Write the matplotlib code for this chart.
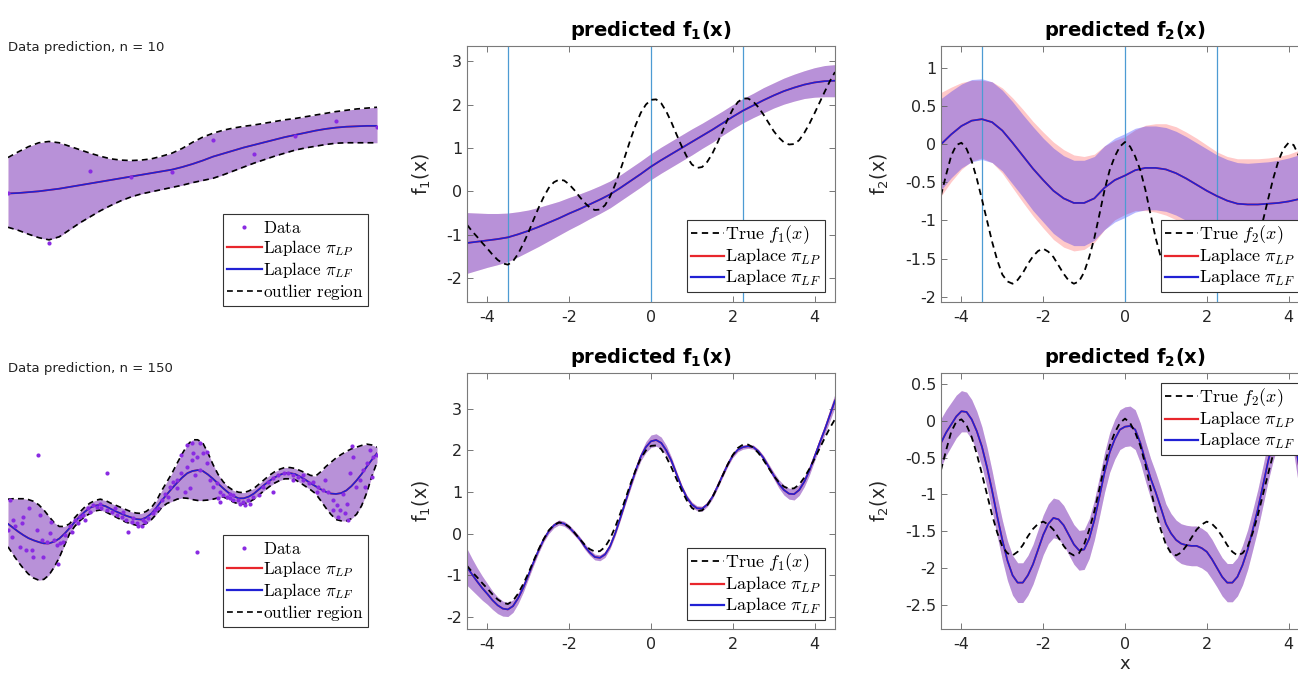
import matplotlib
matplotlib.use('Agg')
import matplotlib.pyplot as plt
import numpy as np
from matplotlib.lines import Line2D
from matplotlib.ticker import FuncFormatter, MultipleLocator

plt.rcParams['axes.unicode_minus'] = False
plt.rcParams['mathtext.fontset'] = 'cm'
plt.rcParams['font.family'] = 'DejaVu Sans'

# ---- data ----
# coarse grid for the smooth n = 10 predictions
x_grid = [-4.5, -4.25, -4.0, -3.75, -3.5, -3.25, -3.0, -2.75, -2.5, -2.25,
          -2.0, -1.75, -1.5, -1.25, -1.0, -0.75, -0.5, -0.25, 0.0, 0.25,
          0.5, 0.75, 1.0, 1.25, 1.5, 1.75, 2.0, 2.25, 2.5, 2.75,
          3.0, 3.25, 3.5, 3.75, 4.0, 4.25, 4.5]
# fine grid for the wiggly curves
x_fine = [-4.5, -4.375, -4.25, -4.125, -4.0, -3.875, -3.75, -3.625, -3.5, -3.375,
          -3.25, -3.125, -3.0, -2.875, -2.75, -2.625, -2.5, -2.375, -2.25, -2.125,
          -2.0, -1.875, -1.75, -1.625, -1.5, -1.375, -1.25, -1.125, -1.0, -0.875,
          -0.75, -0.625, -0.5, -0.375, -0.25, -0.125, 0.0, 0.125, 0.25, 0.375,
          0.5, 0.625, 0.75, 0.875, 1.0, 1.125, 1.25, 1.375, 1.5, 1.625,
          1.75, 1.875, 2.0, 2.125, 2.25, 2.375, 2.5, 2.625, 2.75, 2.875,
          3.0, 3.125, 3.25, 3.375, 3.5, 3.625, 3.75, 3.875, 4.0, 4.125,
          4.25, 4.375, 4.5]

# true latent functions (fine grid)
true_f1 = [-0.77, -0.92, -1.05, -1.19, -1.32, -1.46, -1.58, -1.66, -1.69, -1.61,
           -1.44, -1.21, -0.95, -0.66, -0.38, -0.13, 0.08, 0.21, 0.27, 0.25,
           0.16, 0.03, -0.12, -0.26, -0.37, -0.43, -0.42, -0.32, -0.12, 0.16,
           0.49, 0.84, 1.20, 1.53, 1.81, 2.00, 2.11, 2.12, 2.03, 1.84,
           1.59, 1.31, 1.04, 0.80, 0.62, 0.54, 0.56, 0.68, 0.87, 1.12,
           1.39, 1.66, 1.89, 2.06, 2.14, 2.14, 2.07, 1.94, 1.77, 1.58,
           1.39, 1.24, 1.13, 1.08, 1.09, 1.18, 1.35, 1.56, 1.80, 2.05,
           2.30, 2.54, 2.75]
true_f2 = [-0.67, -0.40, -0.15, -0.01, 0.02, -0.06, -0.22, -0.45, -0.72, -1.00,
           -1.28, -1.52, -1.71, -1.80, -1.83, -1.78, -1.69, -1.57, -1.47, -1.40,
           -1.37, -1.41, -1.48, -1.59, -1.70, -1.79, -1.83, -1.80, -1.68, -1.48,
           -1.23, -0.92, -0.60, -0.34, -0.16, -0.03, 0.03, -0.03, -0.16, -0.34,
           -0.60, -0.92, -1.23, -1.48, -1.68, -1.80, -1.83, -1.79, -1.70, -1.59,
           -1.48, -1.41, -1.37, -1.40, -1.47, -1.57, -1.69, -1.78, -1.83, -1.80,
           -1.71, -1.52, -1.28, -1.00, -0.72, -0.45, -0.22, -0.06, 0.02, -0.01,
           -0.15, -0.40, -0.67]

# n = 10 predictions (coarse grid)
mean_f1_n10 = [-1.19, -1.16, -1.13, -1.10, -1.06, -0.99, -0.91, -0.82, -0.72, -0.62,
               -0.51, -0.41, -0.30, -0.19, -0.07, 0.08, 0.24, 0.40, 0.57, 0.72,
               0.86, 1.00, 1.14, 1.28, 1.42, 1.57, 1.72, 1.86, 1.98, 2.10,
               2.21, 2.31, 2.39, 2.46, 2.51, 2.54, 2.55]
hw_f1_n10 = [0.70, 0.66, 0.62, 0.59, 0.56, 0.52, 0.48, 0.45, 0.42, 0.39,
             0.37, 0.35, 0.33, 0.32, 0.31, 0.30, 0.30, 0.30, 0.30, 0.30,
             0.30, 0.30, 0.30, 0.29, 0.29, 0.28, 0.28, 0.28, 0.28, 0.29,
             0.29, 0.30, 0.31, 0.32, 0.34, 0.36, 0.37]
mean_f2_n10 = [0.00, 0.13, 0.24, 0.31, 0.33, 0.29, 0.18, 0.02, -0.15, -0.32,
               -0.47, -0.61, -0.71, -0.77, -0.77, -0.71, -0.57, -0.47, -0.41, -0.34,
               -0.31, -0.31, -0.33, -0.38, -0.45, -0.53, -0.61, -0.68, -0.74, -0.78,
               -0.79, -0.79, -0.78, -0.77, -0.75, -0.72, -0.67]
hw_f2_lf_n10 = [0.60, 0.57, 0.55, 0.54, 0.53, 0.53, 0.53, 0.54, 0.54, 0.55,
                0.55, 0.56, 0.56, 0.56, 0.56, 0.55, 0.55, 0.55, 0.55, 0.55,
                0.55, 0.55, 0.55, 0.55, 0.55, 0.55, 0.55, 0.54, 0.54, 0.54,
                0.54, 0.55, 0.55, 0.56, 0.57, 0.58, 0.60]
hw_f2_lp_n10 = [0.68, 0.62, 0.57, 0.53, 0.51, 0.53, 0.56, 0.59, 0.61, 0.62,
                0.63, 0.64, 0.64, 0.63, 0.61, 0.58, 0.55, 0.52, 0.51, 0.53,
                0.56, 0.58, 0.60, 0.61, 0.61, 0.61, 0.60, 0.58, 0.58, 0.59,
                0.60, 0.60, 0.60, 0.61, 0.62, 0.64, 0.66]
vline_x = [-3.5, 0.0, 2.25]

# n = 150 predictions (fine grid)
mean_f1_n150 = [-0.80, -0.98, -1.15, -1.31, -1.45, -1.60, -1.72, -1.80, -1.82, -1.74,
                -1.55, -1.30, -1.00, -0.69, -0.40, -0.14, 0.06, 0.20, 0.27, 0.24,
                0.15, 0.02, -0.12, -0.30, -0.45, -0.56, -0.58, -0.50, -0.30, 0.01,
                0.38, 0.77, 1.15, 1.52, 1.85, 2.08, 2.22, 2.25, 2.18, 2.00,
                1.75, 1.43, 1.12, 0.87, 0.70, 0.61, 0.60, 0.70, 0.88, 1.13,
                1.40, 1.66, 1.88, 2.02, 2.08, 2.10, 2.08, 1.98, 1.82, 1.61,
                1.40, 1.20, 1.05, 0.96, 0.95, 1.05, 1.25, 1.52, 1.85, 2.18,
                2.50, 2.85, 3.20]
hw_f1_n150 = [0.44, 0.38, 0.33, 0.29, 0.25, 0.22, 0.20, 0.18, 0.17, 0.15,
              0.13, 0.11, 0.09, 0.08, 0.07, 0.06, 0.06, 0.06, 0.06, 0.06,
              0.06, 0.06, 0.06, 0.07, 0.07, 0.07, 0.07, 0.07, 0.06, 0.06,
              0.06, 0.06, 0.07, 0.08, 0.10, 0.13, 0.15, 0.15, 0.14, 0.12,
              0.09, 0.07, 0.06, 0.06, 0.06, 0.06, 0.06, 0.05, 0.05, 0.05,
              0.05, 0.05, 0.05, 0.05, 0.05, 0.05, 0.05, 0.05, 0.06, 0.07,
              0.08, 0.10, 0.12, 0.13, 0.14, 0.13, 0.12, 0.11, 0.10, 0.11,
              0.12, 0.14, 0.16]
mean_f2_n150 = [-0.30, -0.16, -0.05, 0.06, 0.13, 0.12, 0.02, -0.14, -0.35, -0.63,
                -0.95, -1.30, -1.62, -1.90, -2.10, -2.20, -2.20, -2.10, -1.95, -1.75,
                -1.55, -1.40, -1.32, -1.34, -1.42, -1.55, -1.68, -1.76, -1.75, -1.60,
                -1.35, -1.03, -0.70, -0.43, -0.25, -0.12, -0.08, -0.07, -0.12, -0.30,
                -0.55, -0.78, -0.97, -1.18, -1.40, -1.53, -1.62, -1.67, -1.69, -1.70,
                -1.70, -1.73, -1.78, -1.88, -2.00, -2.12, -2.20, -2.20, -2.12, -1.96,
                -1.75, -1.48, -1.20, -0.88, -0.55, -0.27, -0.05, 0.08, 0.10, -0.15,
                -0.60, -0.95, -1.30]
hw_f2_n150 = [0.33, 0.31, 0.30, 0.29, 0.28, 0.27, 0.27, 0.27, 0.27, 0.27,
              0.27, 0.27, 0.27, 0.27, 0.27, 0.27, 0.27, 0.27, 0.27, 0.27,
              0.27, 0.27, 0.27, 0.27, 0.27, 0.27, 0.27, 0.27, 0.27, 0.27,
              0.27, 0.27, 0.27, 0.27, 0.27, 0.27, 0.27, 0.27, 0.27, 0.27,
              0.27, 0.27, 0.27, 0.27, 0.27, 0.27, 0.27, 0.27, 0.27, 0.27,
              0.27, 0.27, 0.27, 0.27, 0.26, 0.26, 0.26, 0.26, 0.26, 0.27,
              0.27, 0.27, 0.27, 0.27, 0.27, 0.27, 0.27, 0.27, 0.27, 0.28,
              0.29, 0.30, 0.31]

# data prediction, n = 10 (coarse grid, no axes shown)
pred_mean_n10 = [-0.08, -0.07, -0.05, -0.03, 0.00, 0.03, 0.07, 0.11, 0.15, 0.19,
                 0.23, 0.27, 0.31, 0.35, 0.39, 0.43, 0.47, 0.53, 0.60, 0.68,
                 0.77, 0.84, 0.91, 0.98, 1.04, 1.10, 1.16, 1.22, 1.27, 1.32,
                 1.37, 1.41, 1.44, 1.46, 1.47, 1.48, 1.48]
outlier_hi_n10 = [0.75, 0.88, 1.00, 1.09, 1.12, 1.09, 1.01, 0.93, 0.85, 0.78,
                  0.72, 0.69, 0.68, 0.69, 0.72, 0.78, 0.85, 0.96, 1.10, 1.22,
                  1.31, 1.38, 1.43, 1.47, 1.50, 1.54, 1.58, 1.62, 1.65, 1.69,
                  1.73, 1.77, 1.81, 1.84, 1.87, 1.89, 1.91]
outlier_lo_n10 = [-0.86, -0.93, -1.02, -1.10, -1.15, -1.08, -0.92, -0.76, -0.62, -0.48,
                  -0.36, -0.25, -0.16, -0.09, -0.04, 0.01, 0.06, 0.11, 0.17, 0.22,
                  0.27, 0.35, 0.44, 0.53, 0.62, 0.70, 0.78, 0.85, 0.92, 0.97,
                  1.01, 1.05, 1.08, 1.09, 1.09, 1.09, 1.09]
data_x_n10 = [-4.5, -3.5, -2.5, -1.5, -0.5, 0.5, 1.5, 2.5, 3.5, 4.5]
data_y_n10 = [-0.08, -1.23, 0.44, 0.31, 0.42, 1.15, 0.82, 1.25, 1.60, 1.46]

# data prediction, n = 150 (fine grid)
pred_mean_n150 = [-0.32, -0.41, -0.50, -0.58, -0.65, -0.70, -0.74, -0.77, -0.77, -0.73,
                  -0.66, -0.55, -0.42, -0.28, -0.15, -0.04, 0.05, 0.10, 0.12, 0.09,
                  0.03, -0.03, -0.08, -0.13, -0.17, -0.21, -0.22, -0.17, -0.08, 0.06,
                  0.22, 0.36, 0.50, 0.63, 0.75, 0.85, 0.90, 0.92, 0.90, 0.82,
                  0.72, 0.61, 0.50, 0.40, 0.32, 0.27, 0.27, 0.31, 0.38, 0.48,
                  0.58, 0.67, 0.75, 0.81, 0.85, 0.85, 0.83, 0.77, 0.70, 0.62,
                  0.55, 0.48, 0.42, 0.38, 0.37, 0.39, 0.45, 0.55, 0.68, 0.83,
                  1.00, 1.16, 1.31]
outlier_hi_n150 = [0.25, 0.26, 0.26, 0.26, 0.24, 0.20, 0.12, 0.00, -0.15, -0.29,
                   -0.38, -0.38, -0.32, -0.18, -0.05, 0.07, 0.16, 0.22, 0.25, 0.22,
                   0.16, 0.11, 0.06, 0.01, -0.04, -0.07, -0.08, -0.03, 0.06, 0.22,
                   0.45, 0.65, 0.85, 1.08, 1.30, 1.50, 1.62, 1.62, 1.55, 1.32,
                   1.05, 0.82, 0.65, 0.53, 0.45, 0.41, 0.40, 0.44, 0.50, 0.60,
                   0.70, 0.80, 0.88, 0.94, 0.98, 0.98, 0.96, 0.91, 0.86, 0.80,
                   0.78, 0.88, 1.00, 1.10, 1.20, 1.28, 1.35, 1.41, 1.45, 1.49,
                   1.52, 1.50, 1.45]
outlier_lo_n150 = [-0.85, -1.03, -1.20, -1.35, -1.48, -1.57, -1.62, -1.60, -1.50, -1.32,
                   -1.10, -0.82, -0.55, -0.38, -0.25, -0.15, -0.08, -0.02, 0.00, -0.04,
                   -0.10, -0.16, -0.22, -0.28, -0.32, -0.35, -0.36, -0.31, -0.22, -0.09,
                   0.06, 0.15, 0.20, 0.25, 0.28, 0.27, 0.24, 0.22, 0.22, 0.23,
                   0.25, 0.28, 0.30, 0.25, 0.18, 0.14, 0.14, 0.18, 0.25, 0.35,
                   0.45, 0.54, 0.62, 0.68, 0.72, 0.72, 0.70, 0.63, 0.55, 0.47,
                   0.38, 0.22, 0.05, -0.10, -0.22, -0.25, -0.25, -0.20, -0.10, 0.10,
                   0.40, 0.78, 1.10]
data_x_n150 = [-4.45, -4.37, -4.41, -4.13, -4.00, -4.21, -4.05, -3.92, -3.88, -3.64,
               -3.72, -3.80, -3.48, -3.39, -3.31, -3.23, -3.15, -3.56, -4.17, -3.68,
               -4.33, -4.49, -3.44, -3.27, -3.76, -2.08, 0.10, -1.58,
               -2.99, -2.87, -2.75, -2.66, -2.54, -2.42, -2.34, -2.22, -2.09, -1.97,
               -1.85, -1.73, -1.61, -1.48, -1.36, -1.24, -1.16, -1.08, -0.96, -0.83,
               -0.75, -0.67, -0.55, -0.47, -0.39, -0.27, -0.14, -0.02, 0.10, 0.18,
               0.26, 0.35, 0.43, 0.51, 0.59, 0.67, 0.75, 0.83, 0.91, 1.00,
               -0.06, -0.18, -0.02, -0.14, 0.18, -0.27, 0.35,
               1.12, 1.24, 1.36, 1.48, 1.61, 1.73, 1.85, 1.97, 2.09, 2.22,
               2.34, 2.46, 2.58, 2.70, 2.83, 2.95, 3.07, 3.19, 3.31, 3.43,
               3.52, 3.60, 3.68, 3.76, 3.84, 3.92, 4.00, 4.09, 4.17, 4.25,
               4.33, 4.41, 4.49, 3.88, 1.97, 3.23, 3.43, 3.72,
               1.16, 1.28, 1.40, 1.00, 0.91, 0.63, 0.67, 0.02, 0.06, -0.39,
               -0.59, -0.92, -1.20, -1.32, -1.44, -1.69, -1.89, -2.26, -2.50, -2.62,
               -2.79, -2.95, -3.11, 2.70, 2.46, 3.03, 3.56, 3.80, 4.21, 4.37]
data_y_n150 = [0.23, -0.23, -0.62, -0.15, 0.04, -0.85, -0.92, -0.92, -1.08, -1.08,
               -0.12, -0.46, -0.54, -0.69, -0.81, -0.77, -0.73, -0.73, -0.31, -0.69,
               -0.38, -0.46, -0.27, -1.25, 1.27, 0.85, -0.96, -0.50,
               -0.38, -0.23, -0.15, -0.12, 0.04, 0.12, 0.06, 0.04, 0.00, -0.04,
               -0.12, -0.15, -0.23, -0.27, -0.31, -0.38, -0.27, -0.19, -0.08, 0.04,
               0.23, 0.38, 0.54, 0.65, 0.69, 0.85, 1.00, 1.15, 1.23, 0.92,
               1.31, 1.08, 0.69, 0.54, 0.62, 0.42, 0.35, 0.31, 0.27, 0.23,
               0.50, 0.42, 1.54, 1.50, 1.54, 1.27, 1.35,
               0.23, 0.19, 0.23, 0.31, 0.35, 0.54, 0.65, 0.73, 0.81, 0.85,
               0.85, 0.81, 0.77, 0.69, 0.62, 0.65, 0.54, 0.46, 0.42, 0.23,
               0.12, 0.00, 0.38, 0.15, 0.85, 1.23, 0.54, 0.69, 0.92, 1.08,
               1.38, 1.23, 1.27, 1.48, 0.42, 0.69, 0.00, -0.08,
               0.15, 0.12, 0.15, 0.35, 0.38, 0.27, 0.19, 1.31, 0.81, 0.50,
               0.31, 0.00, -0.23, -0.38, -0.19, -0.04, 0.04, 0.15, -0.04, -0.23,
               -0.31, -0.50, -0.58, 0.81, 0.69, 0.42, -0.15, -0.23, 0.54, 0.77]

# ---- styling ----
RED = '#e8262c'
BLUE = '#2121d4'
DATA_C = '#8a2be2'
VLINE_C = '#4d9bd3'
DASH = (3.5, 2.5)
W, H = 1298, 676

fig = plt.figure(figsize=(W / 100, H / 100), dpi=100)


def px_axes(x0, y0, x1, y1):
    return fig.add_axes([x0 / W, 1 - y1 / H, (x1 - x0) / W, (y1 - y0) / H])


def band(ax, xs, lo_r, hi_r, lo_b, hi_b):
    ax.fill_between(xs, lo_r, hi_r, color=(1, 0, 0), alpha=0.21, lw=0)
    ax.fill_between(xs, lo_b, hi_b, color=(0, 0, 1), alpha=0.28, lw=0)


def means(ax, xs, m):
    ax.plot(xs, m, color=RED, lw=1.3)
    ax.plot(xs, m, color=BLUE, lw=1.2)


def style(ax, ylim, ystep, fnum, xlabel=False):
    ax.set_xlim(-4.5, 4.5)
    ax.set_ylim(*ylim)
    ax.xaxis.set_major_locator(MultipleLocator(2))
    ax.yaxis.set_major_locator(MultipleLocator(ystep))
    fmt = FuncFormatter(lambda v, p: '%g' % (round(v, 3) + 0.0))
    ax.xaxis.set_major_formatter(fmt)
    ax.yaxis.set_major_formatter(fmt)
    ax.tick_params(direction='in', top=True, right=True, length=4, width=0.6,
                   color='#606060', labelcolor='#262626', labelsize=11.5)
    ax.tick_params(axis='x', pad=6)
    ax.tick_params(axis='y', pad=3.5)
    for s in ax.spines.values():
        s.set_color('#7a7a7a')
        s.set_linewidth(0.8)
    ax.set_title(r'predicted f$_\mathbf{%s}$(x)' % fnum, fontsize=14,
                 fontweight='bold', pad=7, math_fontfamily='dejavusans')
    ax.set_ylabel(r'f$_%s$(x)' % fnum, fontsize=13.5, va='center',
                  math_fontfamily='dejavusans', color='#262626')
    if xlabel:
        ax.set_xlabel('x', fontsize=13, color='#262626', labelpad=2)


def fn_legend(ax, fnum, loc, anchor):
    handles = [Line2D([], [], color='k', ls='--', dashes=DASH, lw=1.3),
               Line2D([], [], color=RED, lw=1.6),
               Line2D([], [], color=BLUE, lw=1.6)]
    labels = [r'$\mathrm{True}\ f_%s(x)$' % fnum,
              r'$\mathrm{Laplace}\ \pi_{LP}$',
              r'$\mathrm{Laplace}\ \pi_{LF}$']
    leg = ax.legend(handles, labels, loc=loc, bbox_to_anchor=anchor,
                    borderaxespad=0, fontsize=13, fancybox=False,
                    edgecolor='#333333', framealpha=1, handlelength=1.8,
                    handletextpad=0.1, borderpad=0.2, labelspacing=0.05)
    leg.get_frame().set_linewidth(0.8)


def data_panel(ax, xs, mean, hi, lo, dx, dy, anchor):
    ax.set_xlim(-4.5, 4.5)
    ax.set_ylim(-3, 3)
    ax.axis('off')
    band(ax, xs, lo, hi, lo, hi)
    ax.plot(xs, hi, color='k', ls='--', dashes=DASH, lw=1.2)
    ax.plot(xs, lo, color='k', ls='--', dashes=DASH, lw=1.2)
    means(ax, xs, mean)
    ax.plot(dx, dy, ls='none', marker='o', ms=3, mew=0, color=DATA_C)
    handles = [Line2D([], [], ls='none', marker='o', ms=3, mew=0, color=DATA_C),
               Line2D([], [], color=RED, lw=1.6),
               Line2D([], [], color=BLUE, lw=1.6),
               Line2D([], [], color='k', ls='--', dashes=DASH, lw=1.2)]
    labels = [r'$\mathrm{Data}$', r'$\mathrm{Laplace}\ \pi_{LP}$',
              r'$\mathrm{Laplace}\ \pi_{LF}$', r'$\mathrm{outlier\ region}$']
    leg = ax.legend(handles, labels, loc='lower right', bbox_to_anchor=anchor,
                    borderaxespad=0, fontsize=12.3, fancybox=False,
                    edgecolor='#333333', framealpha=1, handlelength=2.0,
                    handletextpad=0.1, borderpad=0.25, labelspacing=0.1,
                    numpoints=1)
    leg.get_frame().set_linewidth(0.8)


# ---- left column: data prediction ----
ax_tl = px_axes(8, 60, 377, 320)
data_panel(ax_tl, x_grid, pred_mean_n10, outlier_hi_n10, outlier_lo_n10,
           data_x_n10, data_y_n10, (0.976, 0.054))
fig.text(8 / W, 1 - 48 / H, 'Data prediction, n = 10', fontsize=9.5,
         va='center', ha='left', color='#222222')

ax_bl = px_axes(8, 380, 377, 640)
data_panel(ax_bl, x_fine, pred_mean_n150, outlier_hi_n150, outlier_lo_n150,
           data_x_n150, data_y_n150, (0.976, 0.05))
fig.text(8 / W, 1 - 369 / H, 'Data prediction, n = 150', fontsize=9.5,
         va='center', ha='left', color='#222222')

# ---- top middle: f1, n = 10 ----
ax = px_axes(467, 46, 835, 302)
m = np.array(mean_f1_n10)
w = np.array(hw_f1_n10)
band(ax, x_grid, m - w, m + w, m - w, m + w)
for xv in vline_x:
    ax.axvline(xv, color=VLINE_C, lw=0.9)
means(ax, x_grid, mean_f1_n10)
ax.plot(x_fine, true_f1, color='k', ls='--', dashes=DASH, lw=1.3)
style(ax, (-2.55, 3.35), 1, '1')
ax.yaxis.set_label_coords(-0.123, 0.5)
fn_legend(ax, '1', 'lower right', (0.973, 0.039))

# ---- top right: f2, n = 10 ----
ax = px_axes(941, 46, 1309, 302)
m = np.array(mean_f2_n10)
wl = np.array(hw_f2_lp_n10)
wf = np.array(hw_f2_lf_n10)
band(ax, x_grid, m - wl, m + wl, m - wf, m + wf)
for xv in vline_x:
    ax.axvline(xv, color=VLINE_C, lw=0.9)
means(ax, x_grid, mean_f2_n10)
ax.plot(x_fine, true_f2, color='k', ls='--', dashes=DASH, lw=1.3)
style(ax, (-2.07, 1.29), 0.5, '2')
ax.yaxis.set_label_coords(-0.166, 0.5)
fn_legend(ax, '2', 'lower right', (0.973, 0.039))

# ---- bottom middle: f1, n = 150 ----
ax = px_axes(467, 373, 835, 629)
m = np.array(mean_f1_n150)
w = np.array(hw_f1_n150)
band(ax, x_fine, m - w, m + w, m - w, m + w)
means(ax, x_fine, mean_f1_n150)
ax.plot(x_fine, true_f1, color='k', ls='--', dashes=DASH, lw=1.3)
style(ax, (-2.29, 3.86), 1, '1')
ax.yaxis.set_label_coords(-0.123, 0.5)
fn_legend(ax, '1', 'lower right', (0.973, 0.035))

# ---- bottom right: f2, n = 150 ----
ax = px_axes(941, 373, 1309, 629)
m = np.array(mean_f2_n150)
w = np.array(hw_f2_n150)
band(ax, x_fine, m - w, m + w, m - w, m + w)
means(ax, x_fine, mean_f2_n150)
ax.plot(x_fine, true_f2, color='k', ls='--', dashes=DASH, lw=1.3)
style(ax, (-2.83, 0.65), 0.5, '2', xlabel=True)
ax.yaxis.set_label_coords(-0.166, 0.5)
fn_legend(ax, '2', 'upper right', (0.973, 0.961))

fig.savefig('out.png', dpi=100)
